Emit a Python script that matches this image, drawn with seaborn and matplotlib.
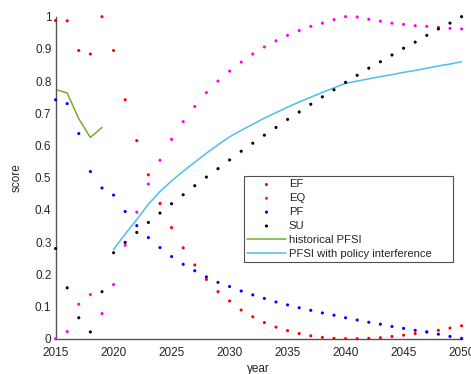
import pandas as pd
import matplotlib.pyplot as plt
import seaborn as sns

# yearly scores
years = list(range(2015, 2051))

ef = [0.988, 0.987, 0.895, 0.884, 1.000, 0.895, 0.742, 0.615, 0.509, 0.420,
      0.345, 0.282, 0.229, 0.184, 0.146, 0.117, 0.089, 0.068, 0.050, 0.036,
      0.025, 0.016, 0.009, 0.004, 0.001, 0.000, 0.000, 0.001, 0.003, 0.007,
      0.011, 0.016, 0.021, 0.026, 0.033, 0.040]
eq = [0.000, 0.022, 0.107, 0.137, 0.078, 0.168, 0.290, 0.393, 0.480, 0.554,
      0.619, 0.674, 0.721, 0.764, 0.800, 0.831, 0.859, 0.884, 0.906, 0.925,
      0.942, 0.957, 0.970, 0.980, 0.991, 1.000, 0.999, 0.992, 0.986, 0.980,
      0.976, 0.972, 0.970, 0.967, 0.964, 0.962]
pf = [0.742, 0.730, 0.637, 0.519, 0.468, 0.446, 0.395, 0.351, 0.314, 0.283,
      0.255, 0.231, 0.211, 0.192, 0.175, 0.162, 0.148, 0.136, 0.125, 0.114,
      0.105, 0.096, 0.088, 0.080, 0.073, 0.065, 0.058, 0.051, 0.045, 0.038,
      0.032, 0.026, 0.021, 0.014, 0.007, 0.001]
su = [0.280, 0.158, 0.065, 0.021, 0.146, 0.267, 0.299, 0.330, 0.361, 0.390,
      0.419, 0.447, 0.475, 0.502, 0.528, 0.555, 0.582, 0.607, 0.632, 0.656,
      0.681, 0.704, 0.728, 0.751, 0.773, 0.796, 0.818, 0.840, 0.860, 0.881,
      0.902, 0.921, 0.942, 0.962, 0.980, 1.000]

hist_years = [2015, 2016, 2017, 2018, 2019]
hist_pfsi = [0.774, 0.763, 0.683, 0.625, 0.656]

policy_years = list(range(2020, 2051))
policy_pfsi = [0.277, 0.325, 0.370, 0.418, 0.457, 0.490, 0.520, 0.548, 0.576,
               0.602, 0.627, 0.647, 0.666, 0.685, 0.702, 0.719, 0.735, 0.750,
               0.765, 0.779, 0.793, 0.800, 0.807, 0.814, 0.820, 0.827, 0.833,
               0.840, 0.847, 0.853, 0.860]

series = {'EF': ef, 'EQ': eq, 'PF': pf, 'SU': su}
colors = {'EF': '#ff0000', 'EQ': '#ff00ff', 'PF': '#0000ff', 'SU': '#000000'}

sns.set_style('white')
plt.rcParams['font.family'] = ['Liberation Sans', 'DejaVu Sans']

fig = plt.figure(figsize=(4.71, 3.74), dpi=100)
ax = fig.add_axes([0.118, 0.0944, 0.862, 0.861])

for name, vals in series.items():
    sns.scatterplot(x=years, y=vals, color=colors[name], s=5, marker='o',
                    edgecolor='none', label=name, ax=ax, zorder=3)
# dots on the axis edges should stay whole, like the original
for coll in ax.collections:
    coll.set_clip_on(False)

sns.lineplot(x=hist_years, y=hist_pfsi, color='#77ac30', linewidth=1.1,
             label='historical PFSI', ax=ax)
sns.lineplot(x=policy_years, y=policy_pfsi, color='#4dbeee', linewidth=1.1,
             label='PFSI with policy interference', ax=ax)

ax.set_xlim(2015, 2050)
ax.set_ylim(0, 1)
ax.set_xticks(range(2015, 2051, 5))
ax.set_yticks([i / 10 for i in range(11)])
ax.set_yticklabels(['0'] + [f'{i / 10:.1f}' for i in range(1, 10)] + ['1'])
ax.set_xlabel('year', fontsize=8.5, color='#262626', labelpad=3)
ax.set_ylabel('score', fontsize=8.5, color='#262626', labelpad=9)

for side in ['top', 'right']:
    ax.spines[side].set_visible(False)
for side in ['left', 'bottom']:
    ax.spines[side].set_color('#555555')
    ax.spines[side].set_linewidth(1.0)
ax.tick_params(direction='in', length=2.5, width=0.8, colors='#555555',
               labelcolor='#262626', labelsize=8.5, pad=3)
ax.tick_params(axis='x', pad=6)

leg = ax.legend(loc='upper left', bbox_to_anchor=(0.464, 0.232, 0.514, 0.273),
                mode='expand', fontsize=8.1, frameon=True, fancybox=False,
                borderaxespad=0, handlelength=3.4, handletextpad=0.3,
                labelspacing=0.34, borderpad=0.3, markerscale=1.0)
leg.get_frame().set_edgecolor('#262626')
leg.get_frame().set_linewidth(0.8)
for t in leg.get_texts():
    t.set_color('#262626')

fig.savefig('out.png', dpi=100)
